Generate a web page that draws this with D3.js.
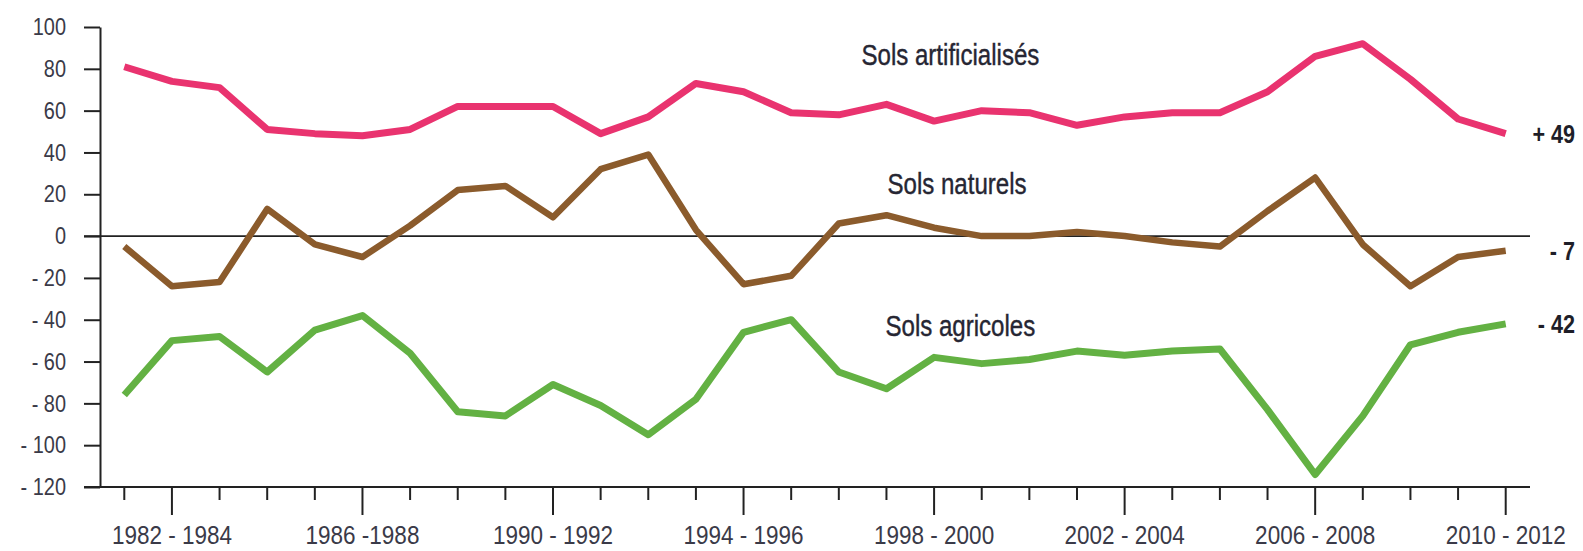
<!DOCTYPE html>
<html>
<head>
<meta charset="utf-8">
<script src="https://cdn.jsdelivr.net/npm/d3@7"></script>
<style>
  html, body { margin: 0; padding: 0; background: #fff; }
  svg { display: block; font-family: "Liberation Sans", Arial, sans-serif; }
</style>
</head>
<body>
<svg id="chart" width="1583" height="551"></svg>
<script>
// ---- data ----
const periods = [
  "1981 - 1983", "1982 - 1984", "1983 - 1985", "1984 - 1986", "1985 - 1987",
  "1986 - 1988", "1987 - 1989", "1988 - 1990", "1989 - 1991", "1990 - 1992",
  "1991 - 1993", "1992 - 1994", "1993 - 1995", "1994 - 1996", "1995 - 1997",
  "1996 - 1998", "1997 - 1999", "1998 - 2000", "1999 - 2001", "2000 - 2002",
  "2001 - 2003", "2002 - 2004", "2003 - 2005", "2004 - 2006", "2005 - 2007",
  "2006 - 2008", "2007 - 2009", "2008 - 2010", "2009 - 2011", "2010 - 2012"
];
const solsArtificialises = [81, 74, 71, 51, 49, 48, 51, 62, 62, 62, 49, 57, 73, 69, 59, 58, 63, 55, 60, 59, 53, 57, 59, 59, 69, 86, 92, 75, 56, 49];
const solsNaturels       = [-5, -24, -22, 13, -4, -10, 5, 22, 24, 9, 32, 39, 3, -23, -19, 6, 10, 4, 0, 0, 2, 0, -3, -5, 12, 28, -4, -24, -10, -7];
const solsAgricoles      = [-76, -50, -48, -65, -45, -38, -56, -84, -86, -71, -81, -95, -78, -46, -40, -65, -73, -58, -61, -59, -55, -57, -55, -54, -83, -114, -86, -52, -46, -42];

const labeledPeriods = ["1982 - 1984", "1986 - 1988", "1990 - 1992", "1994 - 1996",
                        "1998 - 2000", "2002 - 2004", "2006 - 2008", "2010 - 2012"];
const xTickLabels    = ["1982 - 1984", "1986 -1988", "1990 - 1992", "1994 - 1996",
                        "1998 - 2000", "2002 - 2004", "2006 - 2008", "2010 - 2012"];
const yTicks = [-120, -100, -80, -60, -40, -20, 0, 20, 40, 60, 80, 100];

const seriesNames  = ["Sols artificialisés", "Sols naturels", "Sols agricoles"];
const endLabels    = ["+ 49", "- 7", "- 42"];

// ---- layout ----
const W = 1583, H = 551;
const m = { left: 100, right: 53, top: 27, bottom: 64 };
const condense = 0.83;

const svg = d3.select("#chart");

const x = d3.scalePoint().domain(periods).range([m.left, W - m.right]).padding(0.51);
const y = d3.scaleLinear().domain([-120, 100]).range([H - m.bottom, m.top]);

const fmt = v => v < 0 ? "- " + Math.abs(v) : String(v);

function squeeze(sel, f) {
  sel.each(function () {
    const len = this.getComputedTextLength();
    if (len > 0) {
      d3.select(this).attr("textLength", len * f).attr("lengthAdjust", "spacingAndGlyphs");
    }
  });
}

// y axis
const yAxis = svg.append("g")
  .attr("transform", `translate(${m.left},0)`)
  .call(d3.axisLeft(y).tickValues(yTicks).tickFormat(fmt).tickSize(16).tickSizeOuter(0).tickPadding(18));
yAxis.select(".domain").attr("stroke", "#222").attr("stroke-width", 2);
yAxis.selectAll(".tick line").attr("stroke", "#222").attr("stroke-width", 2);
yAxis.selectAll(".tick text")
  .attr("font-size", 24).attr("fill", "#3a3a48")
  .attr("font-family", "'Liberation Sans', Arial, sans-serif");
squeeze(yAxis.selectAll(".tick text"), condense);

// x axis
const xAxisG = svg.append("g").attr("transform", `translate(0,${y(-120)})`);
xAxisG.append("line")
  .attr("x1", m.left - 16).attr("x2", W - m.right)
  .attr("stroke", "#222").attr("stroke-width", 2);
const xt = xAxisG.selectAll("g.xt").data(periods).join("g")
  .attr("class", "xt")
  .attr("transform", d => `translate(${x(d)},0)`);
xt.append("line")
  .attr("y2", d => labeledPeriods.includes(d) ? 28 : 13)
  .attr("stroke", "#222").attr("stroke-width", 2);
xt.filter(d => labeledPeriods.includes(d)).append("text")
  .attr("y", 57)
  .attr("text-anchor", "middle")
  .attr("font-size", 25)
  .attr("fill", "#3a3a48")
  .text(d => xTickLabels[labeledPeriods.indexOf(d)]);
squeeze(xt.selectAll("text"), 0.9);

// zero line
svg.append("line")
  .attr("x1", m.left - 16).attr("x2", W - m.right)
  .attr("y1", y(0)).attr("y2", y(0))
  .attr("stroke", "#222").attr("stroke-width", 1.6);

// lines
const series = [
  { name: seriesNames[0], values: solsArtificialises, color: "#e9336f", width: 7 },
  { name: seriesNames[1], values: solsNaturels, color: "#8b5b2c", width: 6.5 },
  { name: seriesNames[2], values: solsAgricoles, color: "#63b143", width: 7 }
];
const line = d3.line().x((d, i) => x(periods[i])).y(d => y(d));
svg.selectAll("path.series").data(series).join("path")
  .attr("class", "series")
  .attr("fill", "none")
  .attr("stroke", d => d.color)
  .attr("stroke-width", d => d.width)
  .attr("stroke-linejoin", "round")
  .attr("d", d => line(d.values));

// series name labels (anchored to chart positions)
const nameAnchors = [
  { period: "1997 - 1999", value: 80, dx: -25, dy: -4 },
  { period: "1997 - 1999", value: 20, dx: 1, dy: 0 },
  { period: "1997 - 1999", value: -48, dx: -1, dy: 0 }
];
const nameLabels = svg.selectAll("text.sname").data(seriesNames).join("text")
  .attr("class", "sname")
  .attr("x", (d, i) => x(nameAnchors[i].period) + nameAnchors[i].dx)
  .attr("y", (d, i) => y(nameAnchors[i].value) + nameAnchors[i].dy)
  .attr("font-size", 29)
  .attr("font-weight", 500)
  .attr("fill", "#262633")
  .attr("stroke", "#262633")
  .attr("stroke-width", 0.4)
  .text(d => d);
squeeze(nameLabels, condense);

// end value labels
const endText = svg.selectAll("text.endl").data(series).join("text")
  .attr("class", "endl")
  .attr("x", W - 8)
  .attr("y", (d, i) => y(d.values[d.values.length - 1]) + 9)
  .attr("text-anchor", "end")
  .attr("font-size", 26)
  .attr("font-weight", 600)
  .attr("fill", "#1e1e28")
  .text((d, i) => endLabels[i]);
squeeze(endText, condense);
</script>
</body>
</html>
